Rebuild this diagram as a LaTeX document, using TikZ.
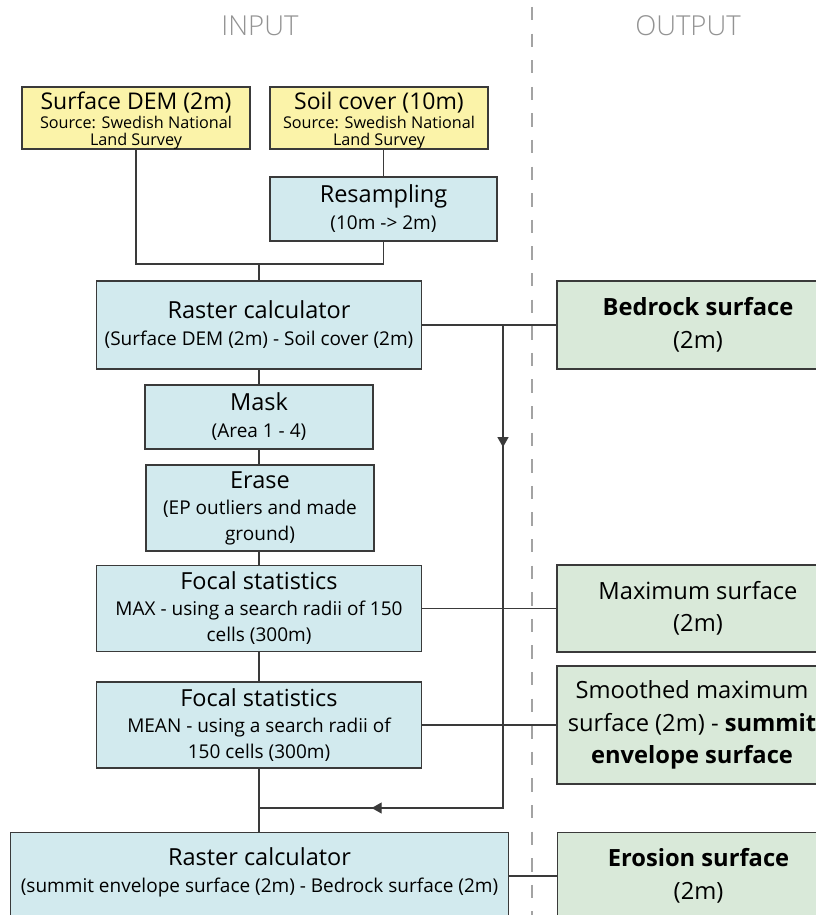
\documentclass[tikz,border=0pt]{standalone}
\usepackage{fontspec}
\setmainfont{Open Sans}
\newfontfamily\hdrfont{Open Sans Light}
\usetikzlibrary{decorations.markings,arrows.meta,calc}
\definecolor{yel}{HTML}{FBF3A9}
\definecolor{blu}{HTML}{D2EAEE}
\definecolor{grn}{HTML}{D9E9D9}
\definecolor{edge}{HTML}{3A3A3A}
\definecolor{hdr}{HTML}{939393}
\newcommand\ttlA{\fontsize{23.5}{28}\selectfont}
\newcommand\ttlY{\fontsize{23}{24}\selectfont}
\begin{document}
\begin{tikzpicture}[x=1pt,y=-1pt,
  box/.style={draw=edge,line width=1.1pt,align=center,inner sep=0pt},
  ybox/.style={box,fill=yel},
  ytext/.style={align=center,inner sep=0pt,font=\fontsize{16.2}{17}\selectfont},
  bbox/.style={box,fill=blu,font=\fontsize{19}{26}\selectfont},
  gbox/.style={box,fill=grn,font=\fontsize{23.7}{32.5}\selectfont},
  btext/.style={align=center,inner sep=0pt,font=\fontsize{19}{26}\selectfont},
  gtext/.style={align=center,inner sep=0pt,font=\fontsize{23.7}{32.5}\selectfont},
  conn/.style={draw=edge,line width=1.1pt},
  hdrtext/.style={text=hdr,font=\hdrfont\fontsize{27.5}{30}\selectfont}]
\useasboundingbox (0,0) rectangle (816,915);
\begin{scope}
\clip (0,0) rectangle (816,915);
\fill[white] (0,0) rectangle (816,915);
% headers
\node[hdrtext] (hin) at (260,26) {INPUT};
\node[hdrtext] (hout) at (688,26) {OUTPUT};
\coordinate (dtop) at (532,7);
\coordinate (dbot) at (532,930);
\draw[draw=hdr!85,line width=1.8pt,dash pattern=on 13.3pt off 13.3pt] (dtop) -- (dbot);
% input boxes
\node[ybox,minimum width=228,minimum height=62] (dem) at (136,118) {};
\node[ytext] (demt) at ($(dem.center)+(0,3)$)
 {\ttlY Surface DEM (2m)\\[2pt]Source: Swedish National\\Land Survey};
\node[ybox,minimum width=218,minimum height=62] (soil) at (379,118) {};
\node[ytext] (soilt) at ($(soil.center)+(0,3)$)
 {\ttlY Soil cover (10m)\\[2pt]Source: Swedish National\\Land Survey};
\node[bbox,minimum width=227,minimum height=64] (res) at (383.5,209)
 {\ttlA Resampling\\[1pt](10m -> 2m)};
\node[bbox,minimum width=325,minimum height=88] (rc1) at (259,325)
 {\ttlA Raster calculator\\[1pt](Surface DEM (2m) - Soil cover (2m)};
\node[bbox,minimum width=228,minimum height=64] (mask) at (259,417)
 {\ttlA Mask\\[1pt](Area 1 - 4)};
\node[bbox,minimum width=228,minimum height=86] (erase) at (260,508)
 {\ttlA Erase\\[0pt](EP outliers and made\\ground)};
\node[bbox,minimum width=325,minimum height=86] (fs1) at (259,608.5)
 {\ttlA Focal statistics\\[0pt]MAX - using a search radii of 150\\cells (300m)};
\node[bbox,minimum width=325,minimum height=86] (fs2) at (259,725)
 {\ttlA Focal statistics\\[0pt]MEAN - using a search radii of\\150 cells (300m)};
\node[bbox,minimum width=498,minimum height=100,anchor=north west] (rc2) at (10,832) {};
\node[btext] (rc2t) at ($(rc2.north)+(0,40)$)
 {\ttlA Raster calculator\\[1pt](summit envelope surface (2m) - Bedrock surface (2m)};
% output boxes
\node[gbox,minimum width=282,minimum height=88] (bed) at (698,325)
 {\textbf{Bedrock surface}\\(2m)};
\node[gbox,minimum width=282,minimum height=87] (max) at (698,608.5)
 {Maximum surface\\(2m)};
\node[gbox,minimum width=270,minimum height=118] (smo) at (692,725)
 {Smoothed maximum\\surface (2m) - \textbf{summit}\\\textbf{envelope surface}};
\node[gbox,minimum width=282,minimum height=100,anchor=north west] (ero) at (557,832) {};
\node[gtext] (erot) at ($(ero.north)+(0,44)$)
 {\textbf{Erosion surface}\\(2m)};
% connectors
\coordinate (mj) at (259,264);
\draw[conn] (res.north) -- (res.north |- soil.south);
\draw[conn] (dem.south) |- (mj) -| (res.south);
\draw[conn] (mj) -- (rc1.north);
\draw[conn] (rc1.south) -- (mask.north);
\draw[conn] (mask.south) -- (erase.north -| mask.south);
\draw[conn] (erase.south -| mask.south) -- (fs1.north -| mask.south);
\draw[conn] (fs1.south) -- (fs2.north);
\draw[conn] (fs2.south) -- (rc2.north -| fs2.south);
\draw[conn] (rc1.east) -- (bed.west);
\draw[conn] (fs1.east) -- (max.west);
\draw[conn] (fs2.east) -- (smo.west);
\draw[conn] (rc2.east |- 0,876) -- (ero.west |- 0,876);
\coordinate (j1) at (503,325);
\coordinate (j2) at (503,808);
\coordinate (j3) at (259,808);
\draw[conn,postaction={decorate},decoration={markings,
   mark=at position 0.168 with {\arrow[edge]{Triangle[length=10pt,width=11pt]}\draw[edge,line width=2pt] (-40pt,0) -- (-8pt,0);},
   mark=at position 0.845 with {\arrow[edge]{Triangle[length=10pt,width=11pt]}\draw[edge,line width=2pt] (-40pt,0) -- (-8pt,0);}}]
  (j1) -- (j2) -- (j3);
\end{scope}
\end{tikzpicture}
\end{document}
